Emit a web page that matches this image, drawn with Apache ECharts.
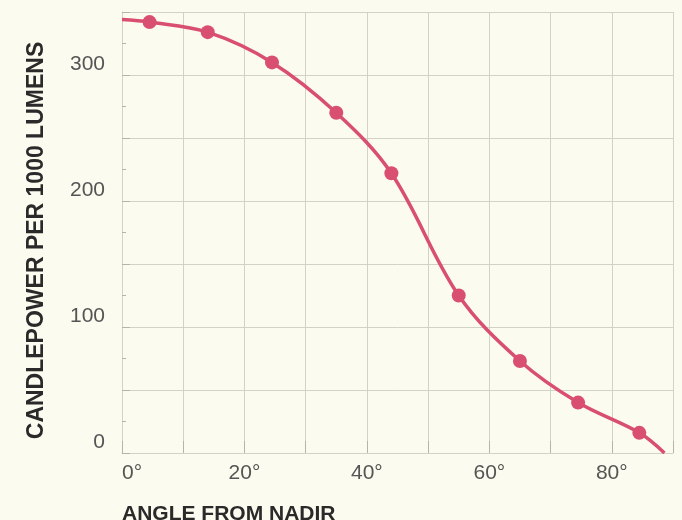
<!DOCTYPE html>
<html>
<head>
<meta charset="utf-8">
<script src="https://cdn.jsdelivr.net/npm/echarts@6/dist/echarts.min.js"></script>
<style>
  html, body { margin: 0; padding: 0; background: #fcfbef; }
  #main { width: 682px; height: 520px; }
</style>
</head>
<body>
<div id="main"></div>
<script>
// measured points (degrees from nadir, candlepower per 1000 lm)
var angles = [4.5, 14, 24.5, 35, 44, 55, 65, 74.5, 84.5];
var candlepower = [342, 334, 310, 270, 222, 125, 73, 40, 16];
// where the drawn curve starts and ends
var curveStart = [0, 344];
var curveEnd = [88.6, 0];

var xTicks = ['0°', '20°', '40°', '60°', '80°'];
var yTicks = ['0', '100', '200', '300'];

var pts = angles.map(function (a, i) { return [a, candlepower[i]]; });
var lineData = [{ value: curveStart, symbol: 'none' }]
  .concat(pts)
  .concat([{ value: curveEnd, symbol: 'none' }]);

var grid = '#d3d2c8';
var chart = echarts.init(document.getElementById('main'));
chart.setOption({
  animation: false,
  backgroundColor: '#fcfbef',
  grid: { left: 122, right: 9, top: 12, bottom: 67, outerBoundsMode: 'none' },
  xAxis: {
    type: 'value',
    min: 0, max: 90, interval: 10,
    axisLine: { show: true, lineStyle: { color: grid } },
    axisTick: { show: true, inside: true, length: 12, lineStyle: { color: '#b5b4aa' } },
    splitLine: { show: true, lineStyle: { color: grid, width: 1 } },
    axisLabel: {
      margin: 10,
      fontFamily: 'Liberation Sans',
      fontSize: 21,
      color: '#555',
      alignMinLabel: 'left',
      formatter: function (v) {
        var i = xTicks.indexOf(v + '°');
        return i >= 0 ? xTicks[i] : '';
      }
    },
    name: 'ANGLE FROM NADIR',
    nameLocation: 'start',
    nameGap: 0,
    nameTextStyle: {
      fontFamily: 'Liberation Sans',
      fontWeight: 'bold',
      fontSize: 21,
      color: '#2a2a2a',
      align: 'left',
      verticalAlign: 'top',
      padding: [51, 0, 0, 0]
    }
  },
  yAxis: {
    type: 'value',
    min: 0, max: 350, interval: 50,
    axisLine: { show: true, lineStyle: { color: grid } },
    axisTick: { show: true, inside: true, length: 8, lineStyle: { color: '#b5b4aa' } },
    minorTick: { show: true, splitNumber: 2, length: 4, lineStyle: { color: '#b5b4aa' } },
    splitLine: { show: true, lineStyle: { color: grid, width: 1 } },
    axisLabel: {
      margin: 17,
      fontFamily: 'Liberation Sans',
      fontSize: 21,
      color: '#555',
      verticalAlign: 'bottom',
      formatter: function (v) {
        return yTicks.indexOf(String(v)) >= 0 ? String(v) : '';
      }
    },
    name: 'CANDLEPOWER PER 1000 LUMENS',
    nameLocation: 'middle',
    nameGap: 74,
    nameRotate: 90,
    nameTextStyle: {
      fontFamily: 'Liberation Sans',
      fontWeight: 'bold',
      fontSize: 23,
      color: '#2a2a2a',
      padding: [0, 16, 0, 0]
    }
  },
  series: [{
    type: 'line',
    data: lineData,
    smooth: 0.35,
    symbol: 'circle',
    symbolSize: 14,
    showAllSymbol: true,
    lineStyle: { color: '#d94f72', width: 3.5 },
    itemStyle: { color: '#d94f72' }
  }]
});
</script>
</body>
</html>
